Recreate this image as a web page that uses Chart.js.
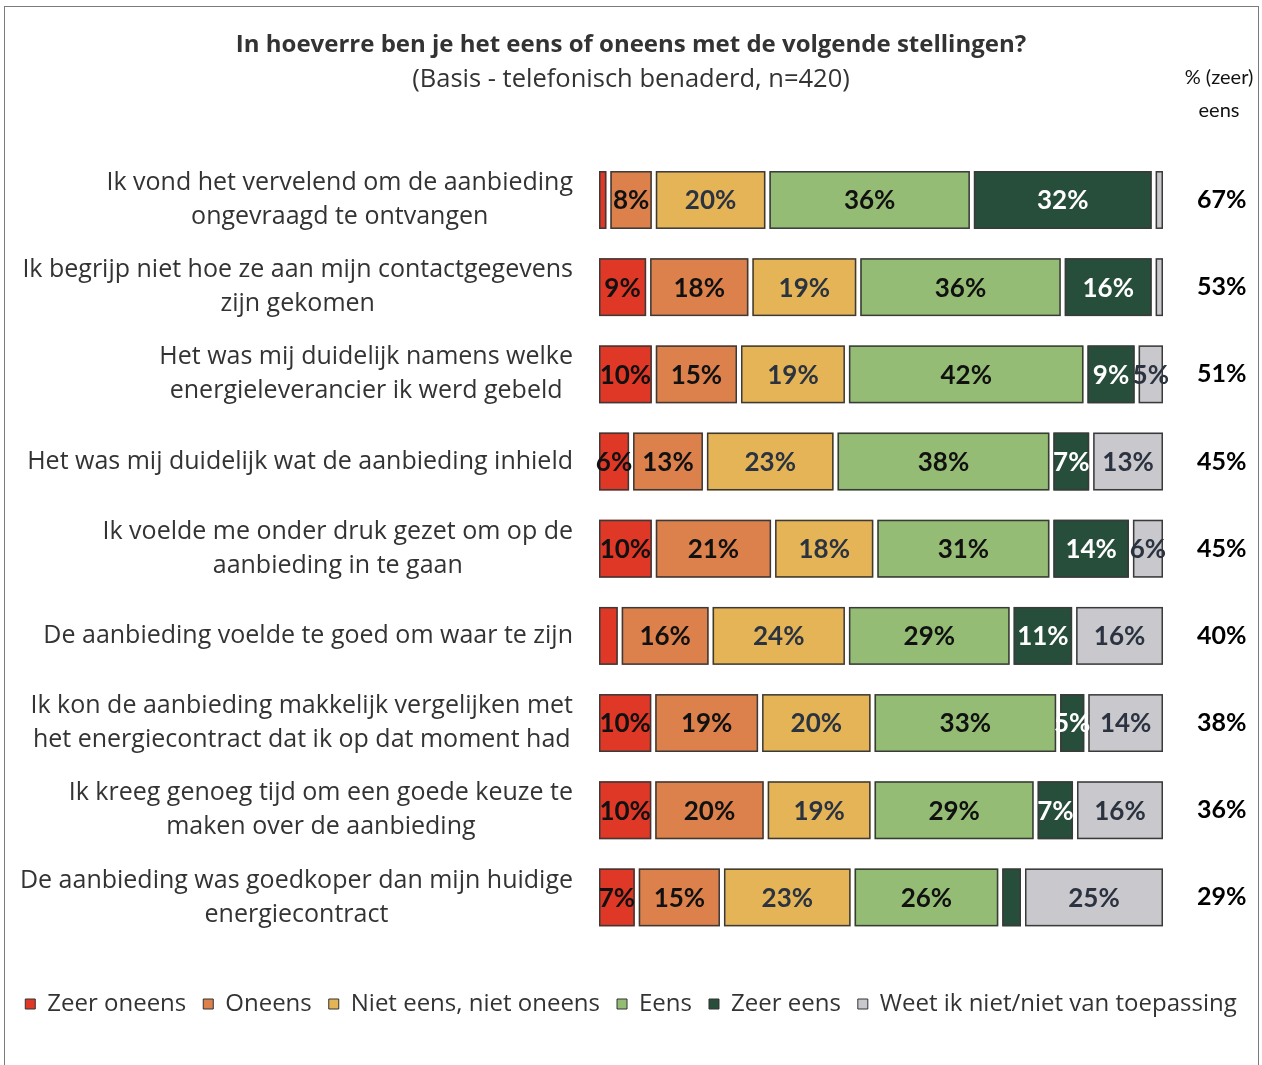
<!DOCTYPE html>
<html lang="nl">
<head>
<meta charset="utf-8">
<title>Stellingen over de aanbieding</title>
<script src="https://cdn.jsdelivr.net/npm/chart.js@4.4.1/dist/chart.umd.min.js"></script>
<style>
  html, body { margin: 0; padding: 0; background: #fff; }
  #wrap { position: relative; width: 1262px; height: 1065px; overflow: hidden; }
  #frame { position: absolute; left: 4px; top: 6px; width: 1255px; height: 1080px; border: 1.5px solid #7b7b7b; box-sizing: border-box; }
  #stellingenChart { position: absolute; left: 0; top: 0; }
</style>
</head>
<body>
<div id="wrap">
  <div id="frame"></div>
  <canvas id="stellingenChart" width="1262" height="1065"></canvas>
</div>
<script>
var statements = [
  ["Ik vond het vervelend om de aanbieding", "ongevraagd te ontvangen"],
  ["Ik begrijp niet hoe ze aan mijn contactgegevens", "zijn gekomen"],
  ["Het was mij duidelijk namens welke", "energieleverancier ik werd gebeld"],
  ["Het was mij duidelijk wat de aanbieding inhield"],
  ["Ik voelde me onder druk gezet om op de", "aanbieding in te gaan"],
  ["De aanbieding voelde te goed om waar te zijn"],
  ["Ik kon de aanbieding makkelijk vergelijken met", "het energiecontract dat ik op dat moment had"],
  ["Ik kreeg genoeg tijd om een goede keuze te", "maken over de aanbieding"],
  ["De aanbieding was goedkoper dan mijn huidige", "energiecontract"]
];
var answers = ["Zeer oneens", "Oneens", "Niet eens, niet oneens", "Eens", "Zeer eens", "Weet ik niet/niet van toepassing"];

// percentages per answer, one value per statement (top to bottom)
var zeerOneens = [2, 9, 10, 6, 10, 4, 10, 10, 7];
var oneens = [8, 18, 15, 13, 21, 16, 19, 20, 15];
var neutraal = [20, 19, 19, 23, 18, 24, 20, 19, 23];
var eens = [36, 36, 42, 38, 31, 29, 33, 29, 26];
var zeerEens = [32, 16, 9, 7, 14, 11, 5, 7, 4];
var weetNiet = [2, 2, 5, 13, 6, 16, 14, 16, 25];
var totaalEens = [67, 53, 51, 45, 45, 40, 38, 36, 29];

var series = [zeerOneens, oneens, neutraal, eens, zeerEens, weetNiet];
var fillColors = ["#e03826", "#dc804c", "#e4b456", "#94bc74", "#264e3a", "#c8c8cd"];
var valueColors = ["#111111", "#111111", "#2b3340", "#111111", "#ffffff", "#2b3340"];

var TEXT_FONT = "'Open Sans'";
var NUM_FONT = "Lato";
var MIN_LABEL = 5;

(function () {
  // rows are rounded, so scale each row to a full 100% bar
  function rowTotal(i) {
    return series.reduce(function (sum, s) { return sum + s[i]; }, 0);
  }

  var datasets = series.map(function (values, d) {
    return {
      label: answers[d],
      data: values.map(function (v, i) { return v / rowTotal(i) * 100; }),
      backgroundColor: fillColors[d],
      borderColor: "#ffffff",
      borderWidth: 2,
      borderSkipped: false,
      categoryPercentage: 1,
      barPercentage: 0.71
    };
  });

  var barText = {
    id: "barText",
    afterDatasetsDraw: function (chart) {
      var ctx = chart.ctx;
      ctx.save();
      // dark outline just inside the white gap of every segment
      ctx.strokeStyle = "#3a3a3a";
      ctx.lineWidth = 1.5;
      series.forEach(function (values, d) {
        chart.getDatasetMeta(d).data.forEach(function (bar) {
          var left = Math.min(bar.x, bar.base);
          var w = Math.abs(bar.x - bar.base);
          var top = bar.y - bar.height / 2;
          ctx.strokeRect(left + 2.75, top + 2.75, w - 5.5, bar.height - 5.5);
        });
      });
      // percentage inside the segment
      ctx.font = "bold 26px " + NUM_FONT;
      ctx.textAlign = "center";
      ctx.textBaseline = "middle";
      series.forEach(function (values, d) {
        ctx.fillStyle = valueColors[d];
        chart.getDatasetMeta(d).data.forEach(function (bar, i) {
          if (values[i] < MIN_LABEL) {
            return;
          }
          ctx.fillText(values[i] + "%", (bar.x + bar.base) / 2, bar.y + 1);
        });
      });
      ctx.restore();
    },
    afterDraw: function (chart) {
      var ctx = chart.ctx;
      var yScale = chart.scales.y;
      var right = chart.chartArea.left - 24;
      ctx.save();
      ctx.font = "25px " + TEXT_FONT;
      ctx.fillStyle = "#333333";
      ctx.textAlign = "center";
      ctx.textBaseline = "middle";
      statements.forEach(function (lines, i) {
        var widest = 0;
        lines.forEach(function (line) {
          widest = Math.max(widest, ctx.measureText(line).width);
        });
        var cx = right - widest / 2;
        var cy = yScale.getPixelForValue(i);
        lines.forEach(function (line, k) {
          ctx.fillText(line, cx, cy + (k - (lines.length - 1) / 2) * 34);
        });
      });
      // header above the totals column
      var hx = chart.scales.yRight.left + 54;
      ctx.font = "20px " + NUM_FONT;
      ctx.fillStyle = "#111111";
      ctx.fillText("% (zeer)", hx, 78);
      ctx.fillText("eens", hx, 111);
      ctx.restore();
    }
  };

  new Chart(document.getElementById("stellingenChart"), {
    type: "bar",
    data: { labels: statements, datasets: datasets },
    plugins: [barText],
    options: {
      indexAxis: "y",
      responsive: false,
      animation: false,
      layout: { padding: { top: 0, bottom: 39, left: 4, right: 4 } },
      scales: {
        x: {
          stacked: true,
          min: 0,
          max: 100,
          grid: { display: false, drawTicks: false },
          border: { display: false },
          ticks: { display: false },
          afterFit: function (scale) { scale.height = 34; }
        },
        y: {
          stacked: true,
          grid: { display: false, drawTicks: false },
          border: { display: false },
          ticks: { display: false },
          afterFit: function (scale) { scale.width = 593; }
        },
        yRight: {
          type: "category",
          position: "right",
          offset: true,
          labels: totaalEens.map(function (v) { return v + "%"; }),
          grid: { display: false, drawTicks: false },
          border: { display: false },
          ticks: {
            color: "#000000",
            crossAlign: "center",
            padding: 32,
            font: { family: NUM_FONT, size: 25, weight: "bold" }
          },
          afterFit: function (scale) { scale.width = 93; }
        }
      },
      plugins: {
        title: {
          display: true,
          text: "In hoeverre ben je het eens of oneens met de volgende stellingen?",
          color: "#333333",
          font: { family: TEXT_FONT, size: 24, weight: "bold" },
          padding: { top: 31, bottom: 5 }
        },
        subtitle: {
          display: true,
          text: "(Basis - telefonisch benaderd, n=420)",
          color: "#333333",
          font: { family: TEXT_FONT, size: 25.5 },
          padding: { top: 0, bottom: 61 }
        },
        legend: {
          position: "bottom",
          labels: {
            color: "#333333",
            boxWidth: 10,
            boxHeight: 10,
            padding: 17,
            font: { family: TEXT_FONT, size: 24 },
            generateLabels: function (chart) {
              return Chart.defaults.plugins.legend.labels.generateLabels(chart).map(function (item) {
                item.strokeStyle = "#333333";
                item.lineWidth = 1;
                return item;
              });
            }
          }
        },
        tooltip: { enabled: false }
      }
    }
  });
})();
</script>
</body>
</html>
